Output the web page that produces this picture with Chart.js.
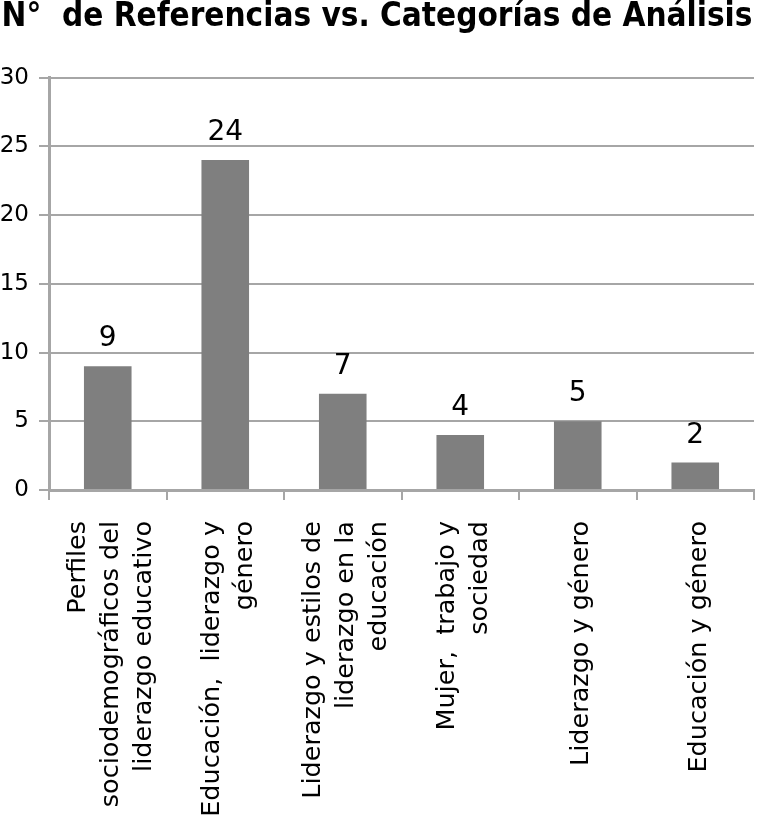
<!DOCTYPE html>
<html>
<head>
<meta charset="utf-8">
<script src="https://cdn.jsdelivr.net/npm/chart.js@4.4.1/dist/chart.umd.min.js"></script>
<style>
    html, body { margin: 0; padding: 0; background: #fff; }
    #wrap { width: 757px; height: 816px; }
</style>
</head>
<body>
<div id="wrap"><canvas id="bar-graph"></canvas></div>
<script>
    const categorias = [
        ['Perfiles', 'sociodemográficos del', 'liderazgo educativo'],
        ['Educación,  liderazgo y', 'género'],
        ['Liderazgo y estilos de', 'liderazgo en la', 'educación'],
        ['Mujer,  trabajo y', 'sociedad'],
        ['Liderazgo y género'],
        ['Educación y género']
    ];
    const referencias = [9, 24, 7, 4, 5, 2];
    const yMin = 0;
    const yMax = 30;
    const yStep = 5;
    const titulo = 'N°  de Referencias vs. Categorías de Análisis';

    const gridGray = '#a6a6a6';
    const labelFont = '25.5px "DejaVu Sans"';
    const lineGap = 33;

    // numbers above each bar
    const valueLabels = {
        id: 'valueLabels',
        afterDatasetsDraw(chart) {
            const ctx = chart.ctx;
            const meta = chart.getDatasetMeta(0);
            ctx.save();
            ctx.font = '28px "DejaVu Sans"';
            ctx.fillStyle = '#000';
            ctx.textAlign = 'center';
            ctx.textBaseline = 'alphabetic';
            meta.data.forEach((bar, i) => {
                ctx.fillText(String(referencias[i]), bar.x, bar.y - 20);
            });
            ctx.restore();
        }
    };

    // vertical category labels, lines centred on each category
    const catLabels = {
        id: 'catLabels',
        afterDraw(chart) {
            const ctx = chart.ctx;
            const xs = chart.scales.x;
            ctx.save();
            ctx.font = labelFont;
            ctx.fillStyle = '#000';
            ctx.textAlign = 'right';
            ctx.textBaseline = 'middle';
            categorias.forEach((lines, i) => {
                const cx = xs.getPixelForTick(i) + 4;
                lines.forEach((line, j) => {
                    const lx = cx + (j - (lines.length - 1) / 2) * lineGap;
                    ctx.save();
                    ctx.translate(lx, xs.top + 31);
                    ctx.rotate(-Math.PI / 2);
                    ctx.fillText(line, 0, 0);
                    ctx.restore();
                });
            });
            ctx.restore();
        }
    };

    new Chart(
        document.getElementById('bar-graph'),
        {
            type: 'bar',
            data: {
                labels: categorias.map(l => l.join(' ')),
                datasets: [
                    {
                        label: 'N° de Referencias',
                        data: referencias,
                        backgroundColor: '#7f7f7f',
                        borderWidth: 0,
                        categoryPercentage: 1,
                        barPercentage: 0.405
                    }
                ]
            },
            options: {
                responsive: true,
                maintainAspectRatio: false,
                animation: false,
                layout: { padding: { left: 0, right: 3, top: 0, bottom: 0 } },
                plugins: {
                    legend: { display: false },
                    tooltip: { enabled: false },
                    title: {
                        display: true,
                        text: titulo,
                        color: '#000',
                        font: { family: '"DejaVu Sans Condensed", "DejaVu Sans"', size: 33, weight: 'bold', lineHeight: 1.05 },
                        padding: { top: 0, bottom: 43 }
                    }
                },
                scales: {
                    x: {
                        grid: {
                            display: true,
                            offset: true,
                            drawOnChartArea: false,
                            tickLength: 10,
                            color: gridGray,
                            lineWidth: 2
                        },
                        border: { display: true, color: gridGray, width: 3 },
                        ticks: { display: false },
                        afterFit(scale) { scale.height = 326; }
                    },
                    y: {
                        min: yMin,
                        max: yMax,
                        grid: {
                            color: gridGray,
                            lineWidth: 2,
                            tickLength: 10
                        },
                        border: { display: true, color: gridGray, width: 3 },
                        ticks: {
                            stepSize: yStep,
                            color: '#000',
                            font: { family: '"DejaVu Sans"', size: 23 },
                            padding: 10
                        },
                        afterFit(scale) { scale.width = 49; }
                    }
                }
            },
            plugins: [valueLabels, catLabels]
        }
    );
</script>
</body>
</html>
